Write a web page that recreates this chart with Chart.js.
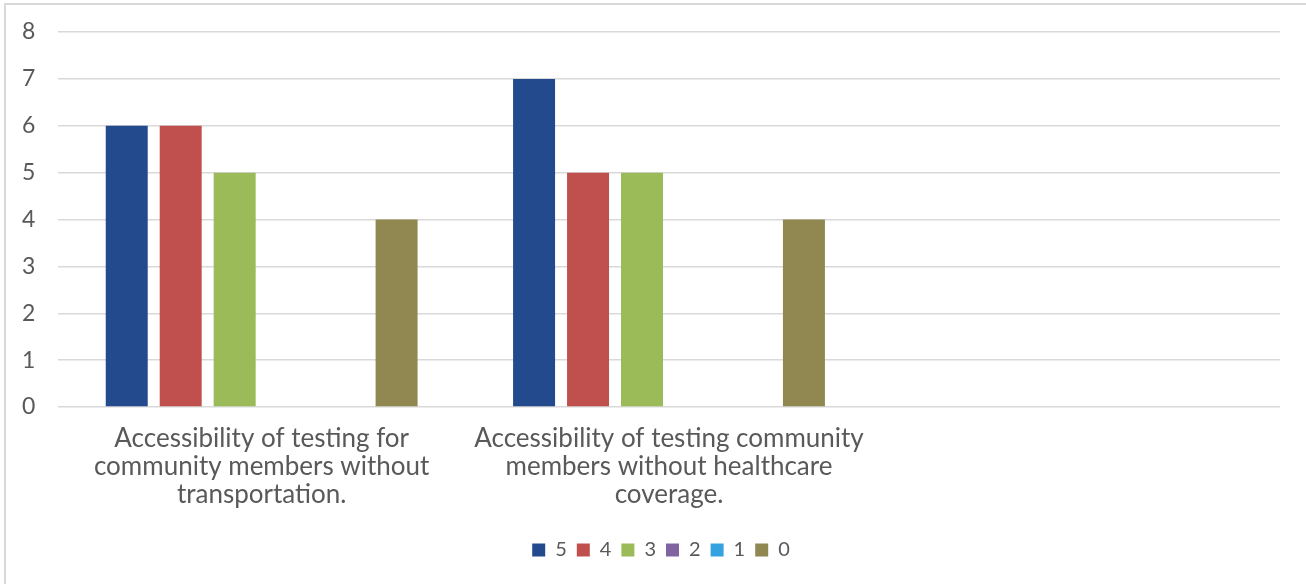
<!DOCTYPE html>
<html>
<head>
<meta charset="utf-8">
<script src="https://cdn.jsdelivr.net/npm/chart.js@4"></script>
<style>
  html, body { margin: 0; padding: 0; background: #fff; overflow: hidden; }
  .frame {
    position: absolute; left: 4px; top: 3px; width: 1320px; height: 600px;
    border: 2px solid #d9d9d9; box-sizing: border-box;
  }
  .wrap { position: absolute; left: 0; top: 0; width: 1306px; height: 584px; }
</style>
</head>
<body>
<div class="frame"></div>
<div class="wrap"><canvas id="ratingChart" width="1306" height="584"></canvas></div>
<script>
// Kategoriler (üçüncüsü boş)
const categories = [
    ['Accessibility of testing for', 'community members without', 'transportation.'],
    ['Accessibility of testing community', 'members without healthcare', 'coverage.'],
    ''
];

// Puan serileri
const ratingLabels = ['5', '4', '3', '2', '1', '0'];
const score5 = [6, 7, null];
const score4 = [6, 5, null];
const score3 = [5, 5, null];
const score2 = [0, 0, null];
const score1 = [0, 0, null];
const score0 = [4, 4, null];
const seriesColors = ['#234a8c', '#c0504d', '#9bbb59', '#8064a2', '#33a2de', '#918750'];

const yTicks = [0, 1, 2, 3, 4, 5, 6, 7, 8];

const fontFamily = 'Lato, "Noto Sans", sans-serif';
const textColor = '#595959';

const allSeries = [score5, score4, score3, score2, score1, score0];

// Lejantı biraz sağa kaydır
const legendShift = {
    id: 'legendShift',
    afterLayout(chart) {
        chart.legend.left += 10;
        chart.legend.right += 10;
    }
};

const ratingChart = new Chart(
    document.getElementById('ratingChart'),
    {
        type: 'bar',
        data: {
            labels: categories,
            datasets: allSeries.map((values, i) => ({
                label: ratingLabels[i],
                data: values,
                backgroundColor: seriesColors[i],
                borderWidth: 0,
                categoryPercentage: 0.795,
                barPercentage: 0.778
            }))
        },
        options: {
            responsive: false,
            animation: false,
            layout: {
                padding: { top: 32, right: 26, left: 22, bottom: 14 }
            },
            scales: {
                x: {
                    grid: { display: false },
                    border: { display: false },
                    ticks: {
                        color: textColor,
                        font: { family: fontFamily, size: 26, lineHeight: 1.077 },
                        padding: 10,
                        maxRotation: 0,
                        autoSkip: false
                    },
                    afterFit: (scale) => { scale.height = 123; }
                },
                y: {
                    min: 0,
                    max: 8,
                    afterBuildTicks: (scale) => {
                        scale.ticks = yTicks.map(v => ({ value: v }));
                    },
                    border: { display: false },
                    grid: {
                        color: '#d9d9d9',
                        lineWidth: 1.5,
                        drawTicks: false
                    },
                    ticks: {
                        color: textColor,
                        font: { family: fontFamily, size: 23 },
                        padding: 0,
                        crossAlign: 'far'
                    },
                    afterFit: (scale) => { scale.width = 36; }
                }
            },
            plugins: {
                legend: {
                    position: 'bottom',
                    labels: {
                        color: textColor,
                        font: { family: fontFamily, size: 20 },
                        boxWidth: 13,
                        boxHeight: 13,
                        padding: 10
                    }
                },
                tooltip: { enabled: false }
            }
        },
        plugins: [legendShift]
    }
);
</script>
</body>
</html>
